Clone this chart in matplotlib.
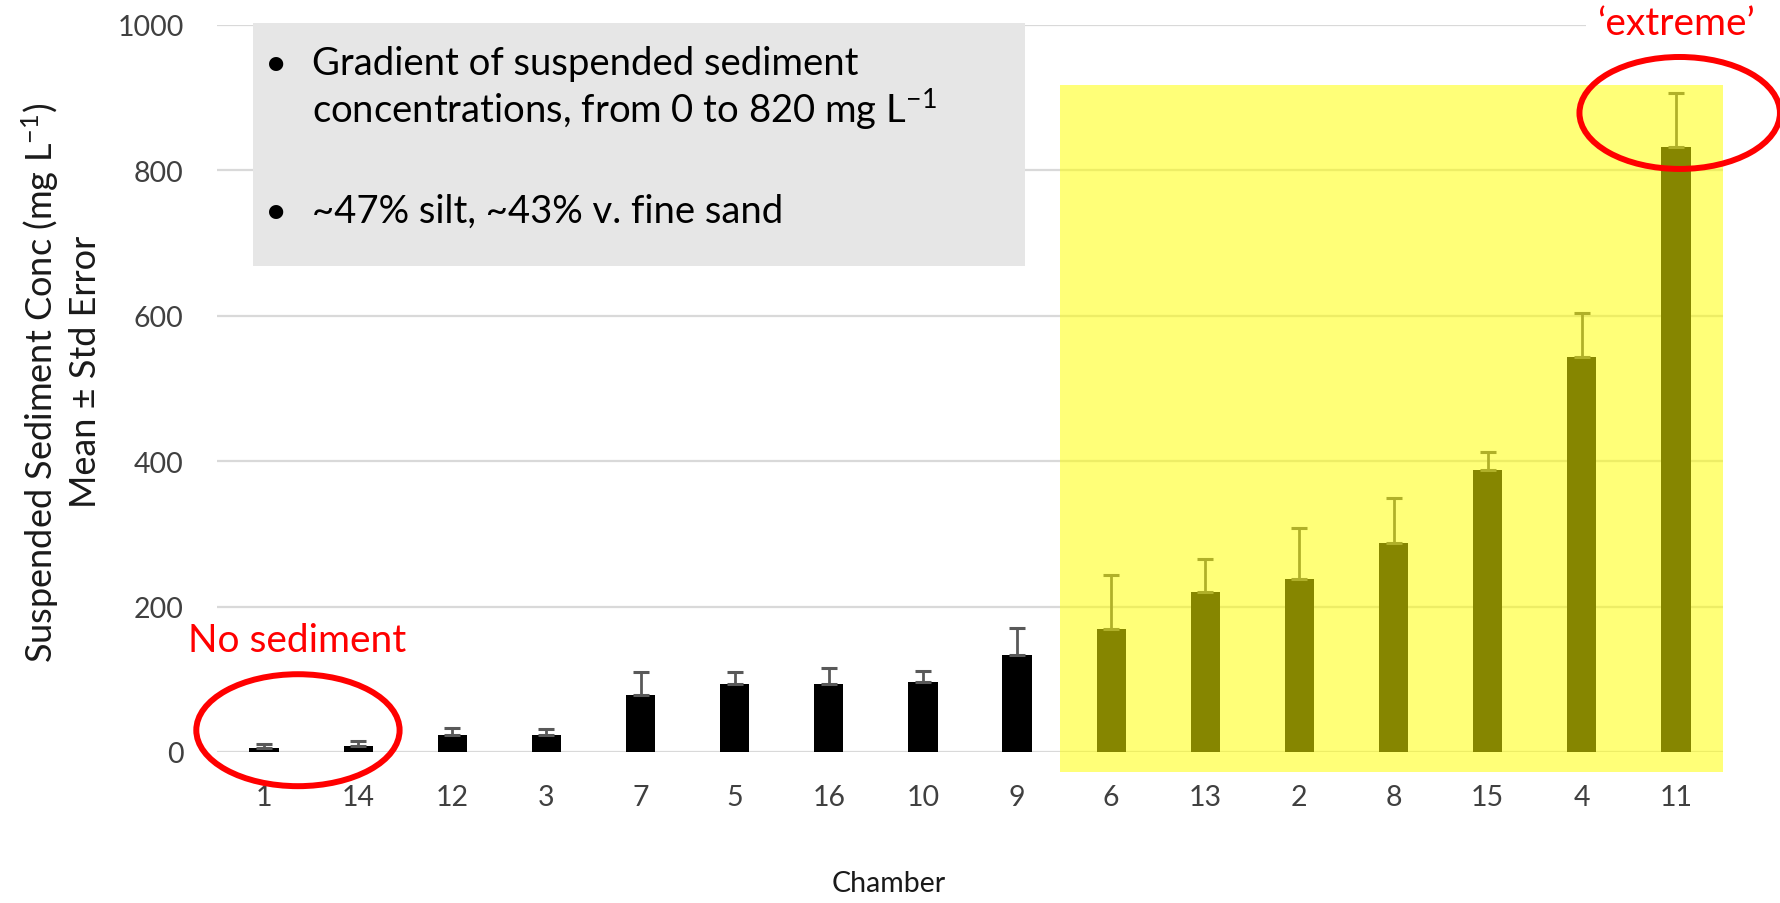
import matplotlib
matplotlib.use("Agg")
import matplotlib.pyplot as plt
from matplotlib.patches import Rectangle, Ellipse

plt.rcParams['font.family'] = ['Lato', 'DejaVu Sans']
plt.rcParams['mathtext.default'] = 'regular'

# chambers ordered by mean suspended sediment concentration (mg/L)
chambers = ['1', '14', '12', '3', '7', '5', '16', '10', '9',
            '6', '13', '2', '8', '15', '4', '11']
mean_conc = [5, 8, 24, 23, 78, 94, 94, 96, 133,
             169, 220, 238, 287, 388, 543, 832]
std_err = [5.5, 7, 9, 8, 32, 16, 22, 16, 37,
           74, 45, 70, 62, 25, 61, 74]
y_ticks = [0, 200, 400, 600, 800, 1000]

# chambers from '6' onward form the high-concentration group
high_start = 9

fig = plt.figure(figsize=(17.8, 9.04), dpi=100)
ax = fig.add_axes([217 / 1780, 1 - 753 / 904, 1506 / 1780, 727 / 904])

x = range(len(chambers))
ax.bar(x, mean_conc, width=0.31, color='black', zorder=2)
ax.errorbar(x, mean_conc, yerr=[[0] * len(std_err), std_err], fmt='none',
            ecolor='#595959', elinewidth=2, capsize=6, capthick=2.2, zorder=2)

ax.set_xlim(-0.5, len(chambers) - 0.5)
ax.set_ylim(0, 1000)
ax.set_yticks(y_ticks)
ax.set_xticks(list(x))
ax.set_xticklabels(chambers)
ax.tick_params(length=0, labelsize=20.5, colors='#404040')
ax.tick_params(axis='x', pad=23)
ax.tick_params(axis='y', pad=24)
ax.grid(axis='y', color='#d9d9d9', linewidth=1.6, zorder=0)
ax.set_axisbelow(True)
for s in ax.spines.values():
    s.set_visible(False)

# translucent yellow highlight over the high group
ax.add_patch(Rectangle((high_start - 0.54, -27), len(chambers) - 0.5 - (high_start - 0.54), 944,
                       facecolor='#ffff00', alpha=0.53, edgecolor='none',
                       zorder=4, clip_on=False))

# red circles
ax.add_patch(Ellipse((0.36, 30), 2.16, 154, fill=False, edgecolor='#ff0000',
                     linewidth=4.3, zorder=6, clip_on=False))
ax.add_patch(Ellipse((15.04, 879), 2.13, 154, fill=False, edgecolor='#ff0000',
                     linewidth=4.3, zorder=6, clip_on=False))
fig.text(297 / 1780, 1 - 641 / 904, 'No sediment', color='#ff0000', fontsize=28,
         ha='center', va='center')
fig.text(1676 / 1780, 1 - 24 / 904, '\u2018extreme\u2019', color='#ff0000', fontsize=28,
         ha='center', va='center',
         bbox=dict(facecolor='white', edgecolor='none', pad=8))

# grey note box
ax.add_patch(Rectangle((253 / 1780, 1 - 267 / 904), 772 / 1780, 243 / 904,
                       transform=fig.transFigure, facecolor='#e6e6e6',
                       edgecolor='none', zorder=5, clip_on=False))
note_kw = dict(fontsize=27.5, color='black', va='baseline', zorder=7)
fig.text(276 / 1780, 1 - 75 / 904, '\u2022', ha='center', **note_kw)
fig.text(312 / 1780, 1 - 75 / 904, 'Gradient of suspended sediment', **note_kw)
fig.text(312 / 1780, 1 - 123 / 904, 'concentrations, from 0 to 820 mg L$^{-1}$', **note_kw)
fig.text(276 / 1780, 1 - 223 / 904, '\u2022', ha='center', **note_kw)
fig.text(312 / 1780, 1 - 223 / 904, '~47% silt, ~43% v. fine sand', **note_kw)

# axis titles
fig.text(40 / 1780, 1 - 383 / 904, 'Suspended Sediment Conc (mg L$^{-1}$)',
         rotation=90, ha='center', va='center', fontsize=26, color='#1a1a1a')
fig.text(86 / 1780, 1 - 372 / 904, 'Mean \u00b1 Std Error',
         rotation=90, ha='center', va='center', fontsize=26, color='#1a1a1a')
fig.text(889 / 1780, 1 - 884 / 904, 'Chamber', ha='center', va='center',
         fontsize=20.5, color='#1a1a1a')

fig.savefig('out.png', dpi=100)
